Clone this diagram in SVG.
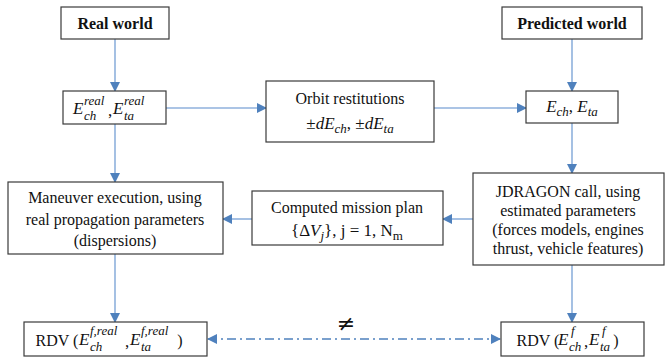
<svg xmlns="http://www.w3.org/2000/svg" width="665" height="358" viewBox="0 0 665 358">
<style>
text{font-family:"Liberation Serif","DejaVu Serif","Times New Roman",serif;fill:#111}
.box{fill:#fff;stroke:#3a3a3a;stroke-width:1.2}
.t{font-size:16px;text-anchor:middle}
.b{font-weight:bold}
.m{font-style:italic;font-size:17px}
.s{font-style:italic;font-size:13px}
.r{font-size:17px}
.ln{stroke:#8fb1dc;stroke-width:1.6;fill:none}
.dd{stroke:#4f81bd;stroke-width:1.4;fill:none;stroke-dasharray:9 4 2 4}
</style>
<defs>
<marker id="ah" markerWidth="10" markerHeight="10" refX="9" refY="5" orient="auto" markerUnits="userSpaceOnUse">
<path d="M0,0 L10,5 L0,10 Z" fill="#4f81bd"/>
</marker>
<marker id="ahs" markerWidth="10" markerHeight="10" refX="1" refY="5" orient="auto" markerUnits="userSpaceOnUse">
<path d="M10,0 L0,5 L10,10 Z" fill="#4f81bd"/>
</marker>
</defs>
<g id="connectors">
<line class="ln" x1="115" y1="39" x2="115" y2="91" marker-end="url(#ah)"/>
<line class="ln" x1="572" y1="39" x2="572" y2="91" marker-end="url(#ah)"/>
<line class="ln" x1="166" y1="108" x2="266" y2="108" marker-end="url(#ah)"/>
<line class="ln" x1="434" y1="108" x2="526" y2="108" marker-end="url(#ah)"/>
<line class="ln" x1="115" y1="124" x2="115" y2="182" marker-end="url(#ah)"/>
<line class="ln" x1="572" y1="123" x2="572" y2="173" marker-end="url(#ah)"/>
<line class="ln" x1="473" y1="219" x2="443" y2="219" marker-end="url(#ah)"/>
<line class="ln" x1="252" y1="219" x2="223" y2="219" marker-end="url(#ah)"/>
<line class="ln" x1="115" y1="254" x2="115" y2="322" marker-end="url(#ah)"/>
<line class="ln" x1="572" y1="265" x2="572" y2="322" marker-end="url(#ah)"/>
<line class="dd" x1="208" y1="339" x2="500" y2="339" marker-start="url(#ahs)" marker-end="url(#ah)"/>
<text x="346" y="331" style="font-family:'DejaVu Sans',sans-serif;font-size:22px;text-anchor:middle">≠</text>
</g>
<g id="real-world">
<rect class="box" x="61" y="7" width="108" height="32"/>
<text class="t b" x="115" y="29">Real world</text>
</g>
<g id="predicted-world">
<rect class="box" x="502" y="7" width="140" height="32"/>
<text class="t b" x="572" y="29">Predicted world</text>
</g>
<g id="e-real">
<rect class="box" x="63" y="91" width="103" height="33"/>
<text class="m" x="73" y="114">E</text>
<text class="s" x="84" y="105">real</text>
<text class="s" x="84" y="120">ch</text>
<text class="r" x="108" y="116">,</text>
<text class="m" x="113" y="114">E</text>
<text class="s" x="124" y="105">real</text>
<text class="s" x="124" y="120">ta</text>
</g>
<g id="orbit-restitutions">
<rect class="box" x="266" y="81" width="168" height="61"/>
<text class="t" x="350" y="104">Orbit restitutions</text>
<text class="m" x="350" y="129" text-anchor="middle"><tspan style="font-style:normal">±</tspan>d<tspan>E</tspan><tspan font-size="13" dy="4">ch</tspan><tspan dy="-4" style="font-style:normal">,</tspan><tspan style="font-style:normal"> ±</tspan>d<tspan>E</tspan><tspan font-size="13" dy="4">ta</tspan></text>
</g>
<g id="e-pred">
<rect class="box" x="526" y="91" width="92" height="32"/>
<text class="m" x="572" y="112" text-anchor="middle">E<tspan font-size="13" dy="4">ch</tspan><tspan dy="-4" style="font-style:normal">, </tspan>E<tspan font-size="13" dy="4">ta</tspan></text>
</g>
<g id="maneuver">
<rect class="box" x="8" y="182" width="215" height="72"/>
<text class="t" x="115" y="203">Maneuver execution, using</text>
<text class="t" x="115" y="225">real propagation parameters</text>
<text class="t" x="115" y="246">(dispersions)</text>
</g>
<g id="mission-plan">
<rect class="box" x="252" y="191" width="191" height="54"/>
<text class="t" x="347" y="213">Computed mission plan</text>
<text class="r" x="347" y="236" text-anchor="middle">{Δ<tspan style="font-style:italic">V</tspan><tspan style="font-style:italic" font-size="13" dy="4">j</tspan><tspan dy="-4">}, j = 1, N</tspan><tspan font-size="13" dy="4">m</tspan></text>
</g>
<g id="jdragon">
<rect class="box" x="473" y="173" width="191" height="92"/>
<text class="t" x="568" y="197">JDRAGON call, using</text>
<text class="t" x="568" y="216">estimated parameters</text>
<text class="t" x="568" y="235">(forces models, engines</text>
<text class="t" x="568" y="254">thrust, vehicle features)</text>
</g>
<g id="rdv-real">
<rect class="box" x="24" y="322" width="183" height="34"/>
<text class="t" x="57" y="346">RDV (</text>
<text class="m" x="79" y="345">E</text>
<text class="s" x="90" y="335">f,real</text>
<text class="s" x="90" y="351">ch</text>
<text class="r" x="125" y="347">,</text>
<text class="m" x="130" y="345">E</text>
<text class="s" x="141" y="335">f,real</text>
<text class="s" x="141" y="351">ta</text>
<text class="t" x="180" y="346">)</text>
</g>
<g id="rdv-pred">
<rect class="box" x="501" y="322" width="143" height="34"/>
<text class="t" x="538" y="346">RDV (</text>
<text class="m" x="558" y="345">E</text>
<text class="s" x="571" y="335">f</text>
<text class="s" x="569" y="351">ch</text>
<text class="r" x="584" y="347">,</text>
<text class="m" x="589" y="345">E</text>
<text class="s" x="602" y="335">f</text>
<text class="s" x="600" y="351">ta</text>
<text class="t" x="616" y="346">)</text>
</g>
</svg>
